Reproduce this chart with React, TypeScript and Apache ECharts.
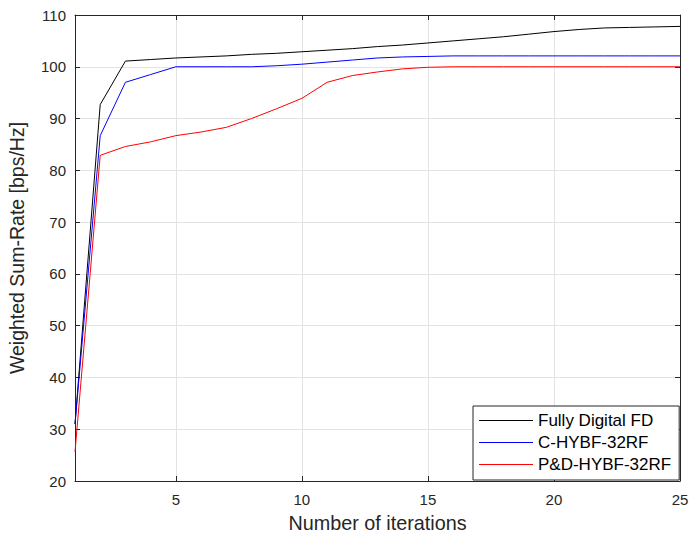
import React, { useEffect, useRef } from "react";
import * as echarts from "echarts";

const iterations = [1, 2, 3, 4, 5, 6, 7, 8, 9, 10, 11, 12, 13, 14, 15, 16, 17, 18, 19, 20, 21, 22, 23, 24, 25];
const fullyDigital = [31, 92.7, 101.1, 101.4, 101.7, 101.9, 102.1, 102.4, 102.6, 102.9, 103.2, 103.5, 103.9, 104.2, 104.6, 105.0, 105.4, 105.8, 106.3, 106.8, 107.2, 107.5, 107.6, 107.7, 107.8];
const cHybf = [31, 86.7, 97.0, 98.5, 100, 100, 100, 100, 100.2, 100.5, 100.9, 101.3, 101.7, 101.9, 102.0, 102.1, 102.1, 102.1, 102.1, 102.1, 102.1, 102.1, 102.1, 102.1, 102.1];
const pdHybf = [25.6, 82.9, 84.6, 85.5, 86.7, 87.4, 88.3, 90.0, 91.9, 93.9, 97.0, 98.3, 99.0, 99.6, 99.9, 100, 100, 100, 100, 100, 100, 100, 100, 100, 100];
const xTicks = [5, 10, 15, 20, 25];
const seriesNames = ["Fully Digital FD", "C-HYBF-32RF", "P&D-HYBF-32RF"];
const seriesColors = ["#000000", "#0000ff", "#ff0000"];

const FONT = "'Liberation Sans', Arial, Helvetica, sans-serif";
const AXIS_COLOR = "#262626";

export default function App() {
  const ref = useRef<HTMLDivElement>(null);
  useEffect(() => {
    if (!ref.current) return;
    const chart = echarts.init(ref.current, undefined, { renderer: "svg" });
    const pair = (arr: number[]) => iterations.map((x, i) => [x, arr[i]]);
    const mk = (name: string, data: number[], color: string) => ({
      name,
      type: "line",
      data: pair(data),
      symbol: "none",
      lineStyle: { color, width: 1 },
      itemStyle: { color },
      xAxisIndex: 0,
      yAxisIndex: 0,
      z: 3,
    });
    chart.setOption({
      animation: false,
      backgroundColor: "#ffffff",
      textStyle: { fontFamily: FONT },
      grid: { left: 75, right: 9, top: 15, bottom: 53, containLabel: false, outerBoundsMode: "none" },
      legend: {
        orient: "vertical",
        left: 473,
        top: 406,
        padding: [6, 8, 7, 6],
        icon: "rect",
        itemWidth: 54,
        itemHeight: 1,
        itemGap: 5,
        backgroundColor: "#ffffff",
        borderColor: AXIS_COLOR,
        borderWidth: 1,
        borderRadius: 0,
        textStyle: { fontFamily: FONT, fontSize: 17, lineHeight: 16, color: "#000", padding: [0, 0, 0, 0] },
        data: seriesNames.map((name, i) => ({
          name,
          itemStyle: { color: seriesColors[i], borderWidth: 0 },
        })),
        z: 10,
      },
      xAxis: [
        {
          type: "value",
          position: "bottom",
          min: 1,
          max: 25,
          name: "Number of iterations",
          nameLocation: "middle",
          nameGap: 32,
          nameTextStyle: { fontFamily: FONT, fontSize: 19.8, color: AXIS_COLOR },
          axisLine: { show: true, onZero: false, lineStyle: { color: AXIS_COLOR, width: 1 } },
          axisTick: { show: true, inside: true, length: 5, customValues: xTicks, lineStyle: { color: AXIS_COLOR } },
          axisLabel: { show: true, customValues: xTicks, fontFamily: FONT, fontSize: 15, color: AXIS_COLOR, margin: 11 },
          splitLine: { show: true, lineStyle: { color: "#e3e3e3", width: 1 } },
        },
        {
          type: "value",
          position: "top",
          min: 1,
          max: 25,
          axisLine: { show: true, onZero: false, lineStyle: { color: AXIS_COLOR, width: 1 } },
          axisTick: { show: true, inside: true, length: 5, customValues: xTicks, lineStyle: { color: AXIS_COLOR } },
          axisLabel: { show: false, customValues: xTicks },
          splitLine: { show: false },
        },
      ],
      yAxis: [
        {
          type: "value",
          position: "left",
          min: 20,
          max: 110,
          interval: 10,
          name: "Weighted Sum-Rate [bps/Hz]",
          nameLocation: "middle",
          nameGap: 48,
          nameTextStyle: { fontFamily: FONT, fontSize: 19.5, color: AXIS_COLOR },
          axisLine: { show: true, onZero: false, lineStyle: { color: AXIS_COLOR, width: 1 } },
          axisTick: { show: true, inside: true, length: 5, lineStyle: { color: AXIS_COLOR } },
          axisLabel: { fontFamily: FONT, fontSize: 15, color: AXIS_COLOR, margin: 9 },
          splitLine: { show: true, lineStyle: { color: "#e3e3e3", width: 1 } },
        },
        {
          type: "value",
          position: "right",
          min: 20,
          max: 110,
          interval: 10,
          axisLine: { show: true, onZero: false, lineStyle: { color: AXIS_COLOR, width: 1 } },
          axisTick: { show: true, inside: true, length: 5, lineStyle: { color: AXIS_COLOR } },
          axisLabel: { show: false },
          splitLine: { show: false },
        },
      ],
      series: [
        mk(seriesNames[0], fullyDigital, seriesColors[0]),
        mk(seriesNames[1], cHybf, seriesColors[1]),
        mk(seriesNames[2], pdHybf, seriesColors[2]),
      ],
    });
    return () => chart.dispose();
  }, []);
  return (
    <div
      ref={ref}
      style={{ position: "absolute", left: 0, top: 0, width: 689, height: 534 }}
    />
  );
}
